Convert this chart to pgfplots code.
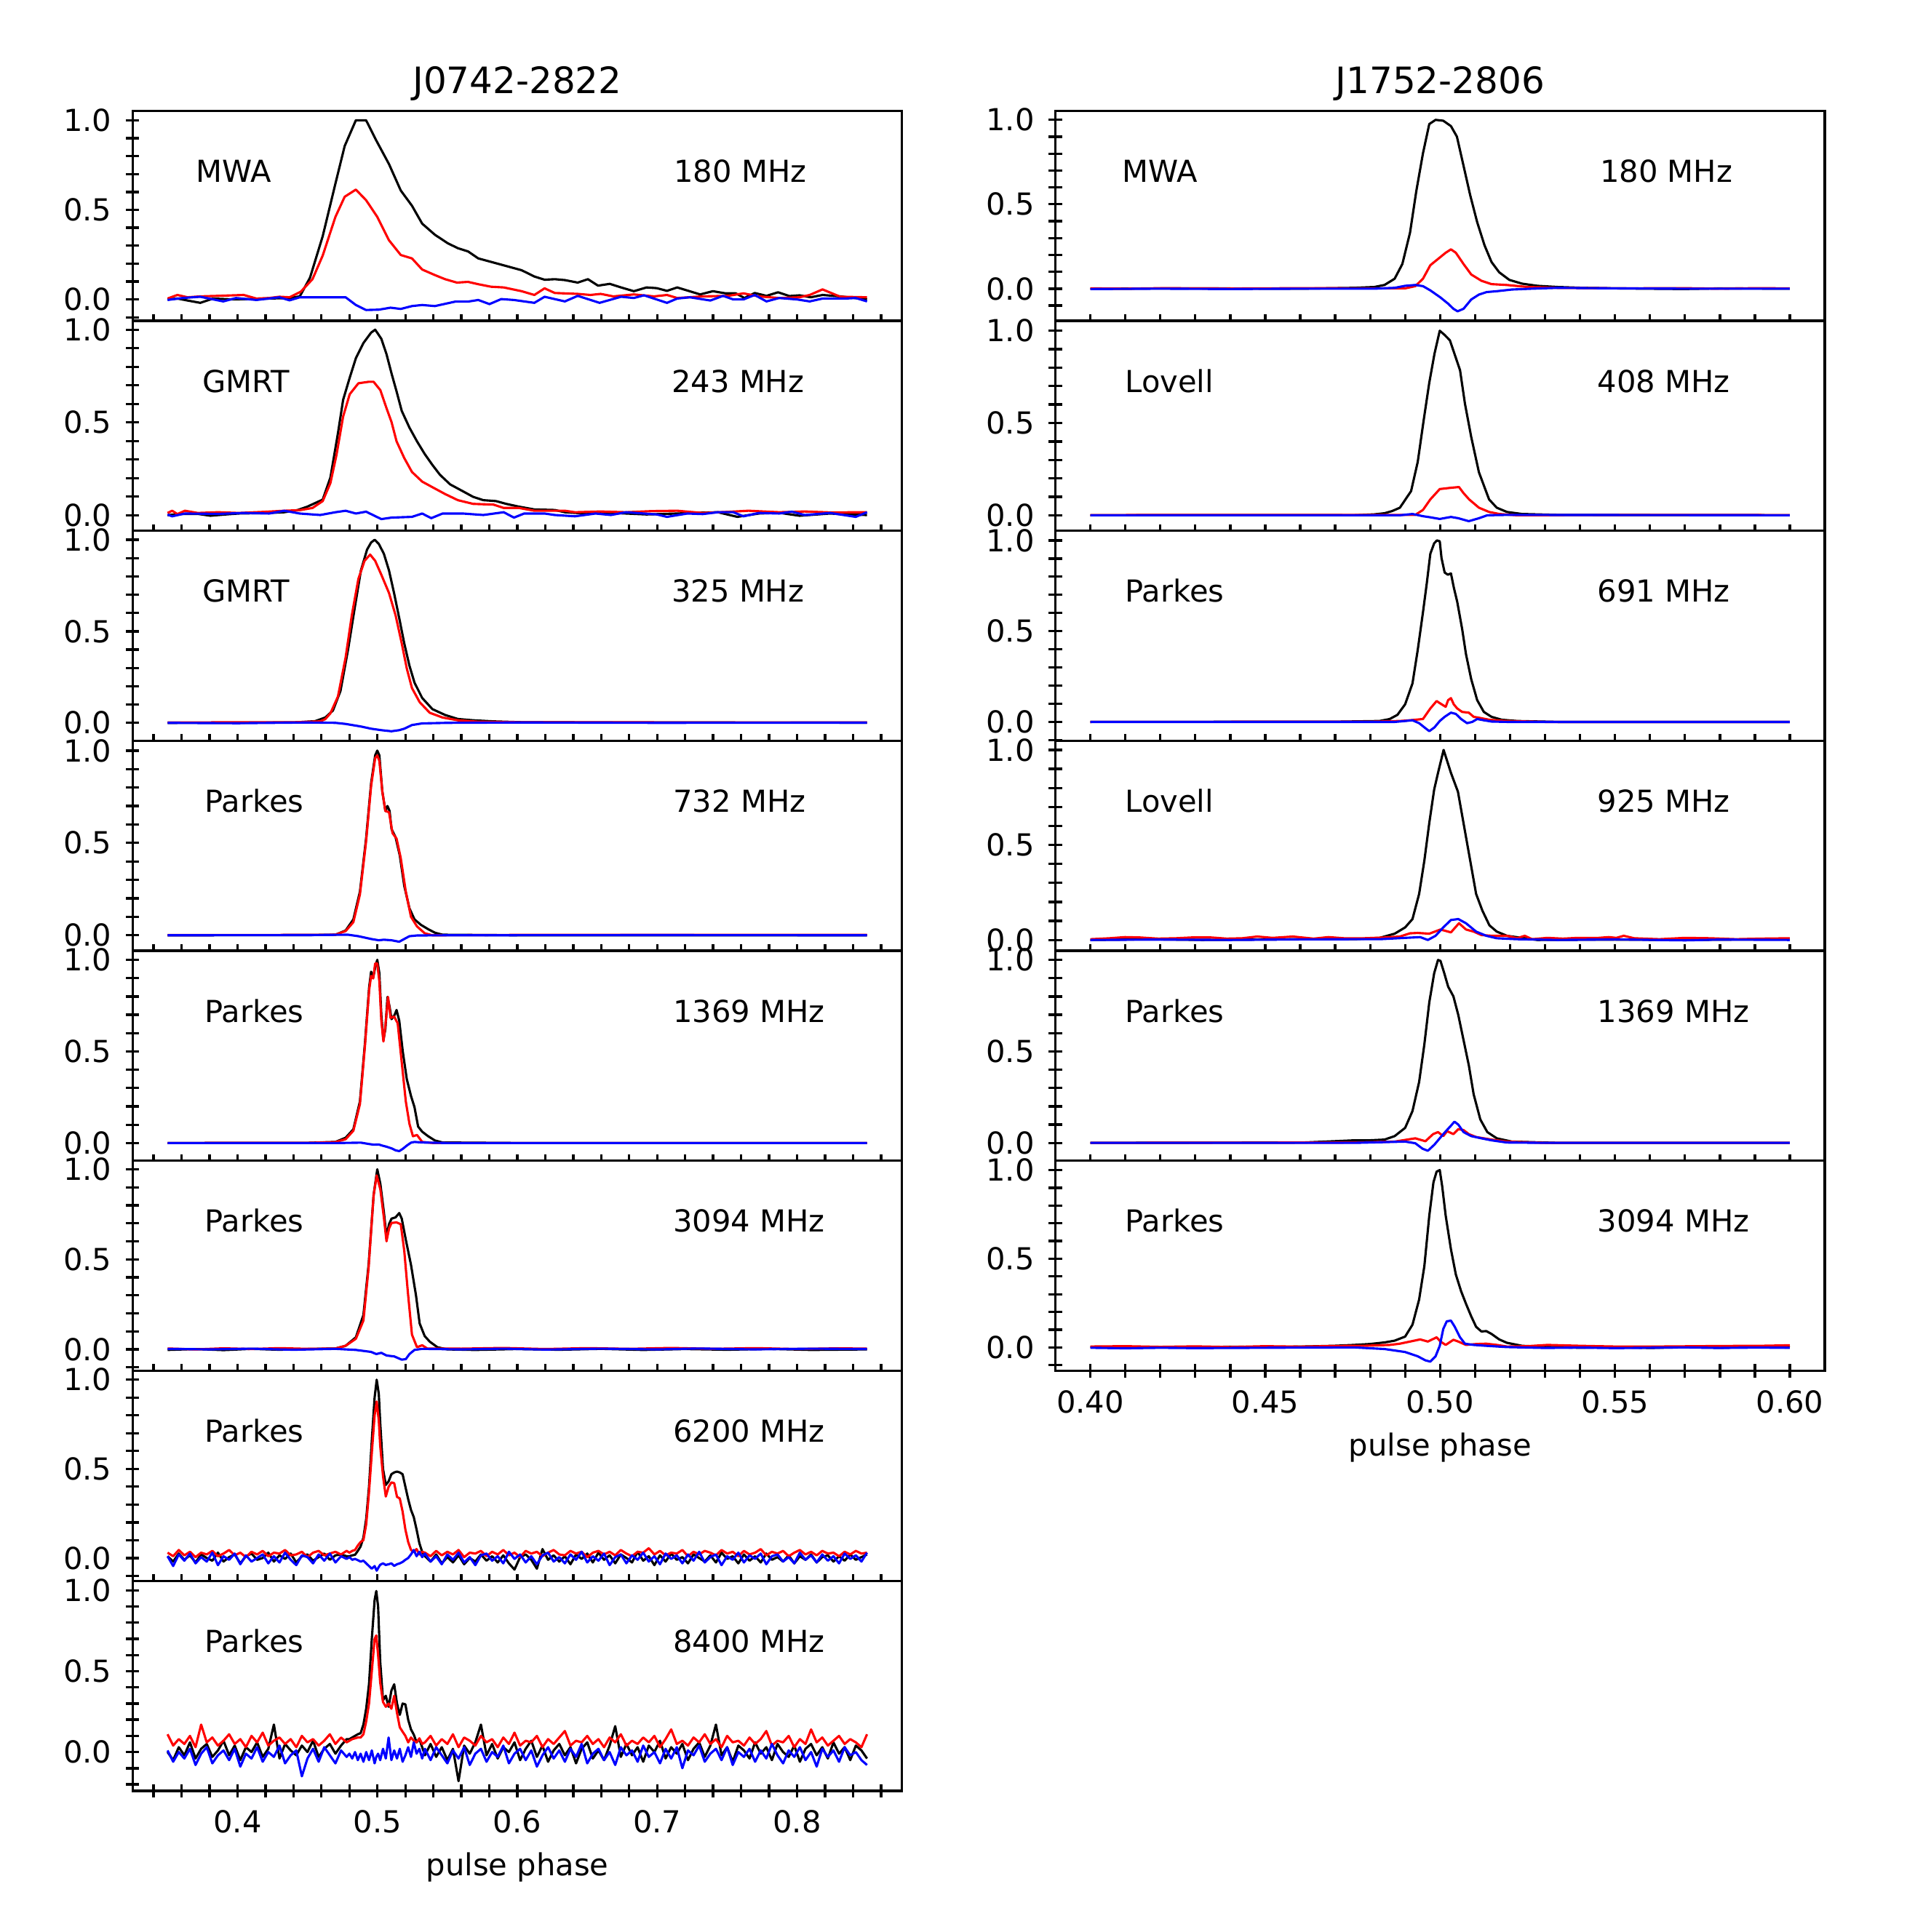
\documentclass[border=0pt]{standalone}
\usepackage{fontspec}
\setmainfont{DejaVu Sans}
\usepackage{pgfplots}
\usepackage{pgfplotstable}
\pgfplotsset{compat=1.18}

% J0742-2822, Parkes 6200 MHz: x, I, L, V
\pgfplotstableread{
x bk rd bl
0.350 0.010 0.030 0.010
0.354 -0.020 0.010 -0.045
0.358 0.025 0.045 0.020
0.362 -0.010 0.015 -0.015
0.366 0.015 0.035 0.025
0.370 -0.025 0.005 -0.030
0.374 0.020 0.030 0.005
0.378 0.000 0.020 -0.020
0.382 -0.015 0.040 0.030
0.386 0.030 0.010 -0.040
0.390 -0.020 0.025 0.010
0.394 0.005 0.045 -0.010
0.398 0.020 0.015 0.025
0.402 -0.030 0.030 -0.035
0.406 0.010 0.005 0.015
0.410 0.025 0.035 -0.020
0.414 -0.010 0.020 0.000
0.418 0.000 0.040 0.020
0.422 0.030 0.010 -0.030
0.426 -0.020 0.030 0.010
0.430 0.015 0.025 -0.025
0.434 -0.005 0.045 0.030
0.438 0.025 0.015 -0.010
0.442 -0.025 0.020 -0.040
0.446 0.010 0.035 0.015
0.450 0.020 0.005 0.005
0.454 -0.015 0.030 -0.030
0.458 0.005 0.040 0.020
0.462 0.025 0.015 -0.015
0.466 -0.010 0.025 0.025
0.470 0.015 0.035 -0.025
0.474 0.020 0.020 0.010
0.478 0.010 0.040 -0.005
0.480 0.010 0.030 0.005
0.482 0.015 0.040 -0.010
0.484 0.018 0.045 -0.005
0.486 0.040 0.070 -0.012
0.488 0.065 0.090 -0.020
0.490 0.115 0.100 -0.015
0.492 0.220 0.190 -0.030
0.494 0.400 0.370 -0.045
0.496 0.660 0.590 -0.060
0.498 0.900 0.800 -0.045
0.4995 1.000 0.878 -0.071
0.501 0.920 0.770 -0.050
0.502 0.760 0.630 -0.038
0.504 0.500 0.460 -0.030
0.506 0.410 0.345 -0.039
0.508 0.430 0.399 -0.035
0.510 0.470 0.424 -0.030
0.512 0.480 0.420 -0.044
0.514 0.485 0.343 -0.035
0.516 0.480 0.334 -0.030
0.518 0.470 0.261 -0.022
0.520 0.400 0.160 -0.010
0.522 0.330 0.090 0.000
0.524 0.270 0.045 0.020
0.526 0.229 0.034 0.045
0.528 0.160 0.050 0.010
0.530 0.083 0.020 0.035
0.532 0.034 0.035 0.005
0.534 0.010 0.030 0.025
0.538 -0.020 0.010 -0.020
0.542 0.020 0.040 0.010
0.546 -0.030 0.015 -0.035
0.550 0.005 0.035 0.020
0.554 -0.025 0.020 -0.010
0.558 0.015 0.045 0.030
0.562 -0.035 0.005 -0.025
0.566 0.000 0.030 0.005
0.570 -0.020 0.025 -0.040
0.574 0.020 0.040 0.015
0.578 -0.015 0.010 0.025
0.582 0.010 0.035 -0.015
0.586 -0.025 0.020 0.010
0.590 0.015 0.045 -0.030
0.594 -0.030 0.015 0.035
0.598 -0.065 0.030 -0.005
0.602 0.005 0.005 0.020
0.606 0.020 0.040 -0.025
0.610 -0.010 0.025 0.010
0.614 -0.060 0.035 -0.035
0.618 0.050 0.010 0.015
0.622 -0.010 0.030 0.030
0.626 0.015 0.045 -0.020
0.630 -0.020 0.020 0.005
0.634 0.010 0.015 -0.030
0.638 -0.035 0.040 0.020
0.642 0.020 0.025 -0.010
0.646 -0.005 0.035 0.035
0.650 0.025 0.005 -0.025
0.654 -0.025 0.030 0.010
0.658 0.030 0.040 -0.015
0.662 -0.010 0.020 0.025
0.666 0.015 0.035 -0.040
0.670 -0.030 0.015 0.005
0.674 0.020 0.045 0.020
0.678 0.000 0.025 -0.030
0.682 -0.025 0.010 0.015
0.686 0.035 0.035 -0.010
0.690 -0.015 0.030 0.030
0.694 0.010 0.055 -0.020
0.698 -0.040 0.020 0.010
0.702 0.015 0.040 -0.035
0.706 -0.020 0.015 0.025
0.710 0.025 0.030 -0.005
0.714 -0.010 0.025 0.015
0.718 0.005 0.045 -0.030
0.722 -0.030 0.010 0.020
0.726 0.020 0.035 -0.015
0.730 0.000 0.020 0.035
0.734 -0.020 0.040 -0.025
0.738 0.015 0.030 0.005
0.742 -0.025 0.015 0.020
0.746 0.030 0.045 -0.040
0.750 -0.005 0.025 0.010
0.754 0.010 0.035 -0.010
0.758 -0.030 0.010 0.030
0.762 0.020 0.040 -0.025
0.766 -0.015 0.020 0.015
0.770 0.010 0.030 -0.005
0.774 -0.025 0.050 0.025
0.778 0.025 0.015 -0.035
0.782 -0.010 0.035 0.010
0.786 0.005 0.025 0.020
0.790 -0.020 0.040 -0.020
0.794 0.015 0.010 0.005
0.798 -0.030 0.030 -0.030
0.802 0.010 0.045 0.030
0.806 -0.010 0.020 -0.010
0.810 0.020 0.035 0.015
0.814 -0.025 0.015 -0.025
0.818 0.005 0.040 0.020
0.822 0.015 0.025 -0.015
0.826 -0.020 0.030 0.010
0.830 0.010 0.010 -0.030
0.834 -0.015 0.035 0.025
0.838 0.020 0.020 -0.005
0.842 -0.010 0.040 0.015
0.846 0.005 0.025 -0.020
0.850 0.020 0.030 0.030
}\tabSixTwo

% J0742-2822, Parkes 8400 MHz: x, I, L, V
\pgfplotstableread{
x bk rd bl
0.350 0.000 0.110 0.010
0.354 -0.050 0.040 -0.060
0.358 0.030 0.080 0.000
0.362 -0.020 0.050 -0.040
0.366 0.060 0.100 0.020
0.370 -0.040 0.030 -0.080
0.374 0.020 0.170 -0.010
0.378 0.050 0.060 0.030
0.382 -0.030 0.090 -0.070
0.386 0.010 0.040 -0.020
0.390 0.070 0.070 0.010
0.394 -0.020 0.110 -0.050
0.398 0.040 0.050 0.020
0.402 -0.050 0.080 -0.090
0.406 0.030 0.030 -0.010
0.410 0.000 0.100 -0.040
0.414 0.060 0.060 0.030
0.418 -0.030 0.120 -0.060
0.422 0.020 0.040 0.000
0.426 0.170 0.070 -0.030
0.430 -0.040 0.090 0.040
0.434 0.050 0.050 -0.070
0.438 0.010 0.080 -0.020
0.442 -0.020 0.030 0.010
0.446 0.040 0.100 -0.150
0.450 0.000 0.060 -0.040
0.454 0.070 0.080 0.020
0.458 -0.030 0.040 -0.060
0.462 0.020 0.070 0.030
0.466 0.050 0.110 -0.020
0.470 -0.010 0.050 -0.070
0.474 0.040 0.090 0.010
0.478 0.080 0.060 -0.030
0.480 0.080 0.070 -0.010
0.482 0.090 0.080 -0.040
0.484 0.100 0.085 0.000
0.486 0.110 0.090 -0.050
0.488 0.117 0.090 -0.010
0.490 0.170 0.110 -0.060
0.492 0.270 0.190 0.000
0.494 0.420 0.300 -0.050
0.496 0.700 0.500 0.010
0.498 0.940 0.700 -0.070
0.4992 0.996 0.721 -0.030
0.5005 0.900 0.600 -0.010
0.502 0.560 0.430 -0.050
0.504 0.320 0.310 0.020
0.506 0.348 0.280 -0.040
0.508 0.280 0.300 0.090
0.510 0.380 0.268 -0.050
0.512 0.419 0.348 0.010
0.514 0.300 0.242 -0.040
0.516 0.230 0.153 0.020
0.518 0.300 0.126 -0.060
0.520 0.295 0.100 -0.020
0.522 0.200 0.060 0.030
0.524 0.140 0.090 -0.030
0.526 0.108 0.070 0.060
0.528 0.060 0.060 -0.010
0.530 0.080 0.085 0.020
0.532 0.030 0.050 -0.040
0.534 -0.020 0.060 0.020
0.538 0.050 0.100 -0.050
0.542 -0.030 0.040 0.030
0.546 0.030 0.080 -0.020
0.550 -0.050 0.050 -0.070
0.554 0.020 0.110 0.010
0.558 -0.180 0.030 -0.040
0.562 0.040 0.090 0.030
0.566 -0.010 0.070 -0.080
0.570 0.060 0.040 -0.010
0.574 0.170 0.100 0.020
0.578 -0.020 0.060 -0.060
0.582 0.050 0.080 0.000
0.586 -0.040 0.030 -0.030
0.590 0.030 0.090 0.040
0.594 0.000 0.050 -0.070
0.598 0.060 0.120 -0.010
0.602 -0.050 0.040 0.020
0.606 0.020 0.070 -0.050
0.610 0.070 0.060 0.010
0.614 -0.030 0.100 -0.090
0.618 0.040 0.030 -0.020
0.622 -0.060 0.080 0.030
0.626 0.010 0.050 -0.040
0.630 0.050 0.090 0.010
0.634 -0.020 0.130 -0.060
0.638 0.030 0.040 0.020
0.642 -0.070 0.070 -0.030
0.646 0.020 0.060 0.050
0.650 0.060 0.100 -0.070
0.654 -0.040 0.050 -0.010
0.658 0.010 0.080 0.020
0.662 -0.050 0.030 -0.050
0.666 0.040 0.090 0.000
0.670 0.160 0.060 -0.080
0.674 -0.030 0.110 0.030
0.678 0.050 0.040 -0.020
0.682 -0.020 0.070 0.010
0.686 0.030 0.050 -0.060
0.690 -0.060 0.090 0.040
0.694 0.040 0.060 -0.030
0.698 0.000 0.100 0.000
0.702 0.070 0.030 -0.070
0.706 -0.040 0.080 0.020
0.710 0.030 0.140 -0.040
0.714 -0.010 0.050 0.030
0.718 0.050 0.070 -0.100
0.722 -0.050 0.040 0.010
0.726 0.020 0.090 -0.020
0.730 0.060 0.060 0.040
0.734 -0.030 0.110 -0.060
0.738 0.040 0.050 -0.010
0.742 0.170 0.080 0.020
0.746 -0.020 0.030 -0.050
0.750 0.030 0.100 0.030
0.754 -0.060 0.060 -0.080
0.758 0.040 0.070 0.000
0.762 0.010 0.040 -0.030
0.766 -0.040 0.090 0.020
0.770 0.060 0.050 -0.060
0.774 -0.010 0.080 0.010
0.778 0.030 0.130 -0.040
0.782 -0.050 0.040 0.050
0.786 0.050 0.070 -0.020
0.790 0.000 0.060 -0.070
0.794 -0.030 0.100 0.010
0.798 0.040 0.030 -0.030
0.802 -0.060 0.080 0.030
0.806 0.020 0.050 -0.050
0.810 0.050 0.140 0.000
0.814 -0.020 0.060 -0.090
0.818 0.030 0.090 0.020
0.822 -0.040 0.040 -0.030
0.826 0.060 0.070 0.010
0.830 -0.010 0.100 -0.060
0.834 0.030 0.050 0.030
0.838 -0.050 0.080 -0.020
0.842 0.040 0.060 0.000
0.846 0.010 0.030 -0.050
0.850 -0.040 0.110 -0.080
}\tabEightFour

\pgfplotsset{
  panel/.style={
    scale only axis, width=253.8pt, height=69.29pt, anchor=north west,
    axis background/.style={fill=white},
    axis line style={line width=0.8pt},
    tick align=center, tick pos=left,
    major tick length=4.4pt, minor tick length=4.4pt,
    tick style={line width=0.8pt, black},
    ytick={0,0.5,1},
    minor ytick={-0.2,-0.1,0.1,0.2,0.3,0.4,0.6,0.7,0.8,0.9},
    /pgf/number format/assume math mode=true,
    yticklabel style={/pgf/number format/fixed, /pgf/number format/fixed zerofill, /pgf/number format/precision=1, xshift=-1.2pt},
    xticklabel style={anchor=base, yshift=-11.6pt},
    every axis plot/.append style={line width=0.75pt, line join=round, mark=none},
    title style={at={(0.5,1)}, anchor=base, yshift=-0.3pt, font=\fontsize{12}{14}\selectfont},
    xlabel style={at={(0.5,0)}, anchor=base, yshift=-28pt},
  },
  lcol/.style={panel, xmin=0.325, xmax=0.875,
    xtick={0.4,0.5,0.6,0.7,0.8},
    minor xtick={0.34,0.36,0.38,0.42,0.44,0.46,0.48,0.52,0.54,0.56,0.58,0.62,0.64,0.66,0.68,0.72,0.74,0.76,0.78,0.82,0.84,0.86},
    xticklabel style={/pgf/number format/fixed, /pgf/number format/fixed zerofill, /pgf/number format/precision=1}},
  rcol/.style={panel, xmin=0.39, xmax=0.61,
    xtick={0.40,0.45,0.50,0.55,0.60},
    minor xtick={0.41,0.42,0.43,0.44,0.46,0.47,0.48,0.49,0.51,0.52,0.53,0.54,0.56,0.57,0.58,0.59},
    xticklabel style={/pgf/number format/fixed, /pgf/number format/fixed zerofill, /pgf/number format/precision=2}},
}
\tikzset{lab/.style={anchor=base west, inner sep=0pt}}

\begin{document}
\begin{tikzpicture}
\path[use as bounding box] (0pt,0pt) rectangle (631.68pt,-637.44pt);

% ===================== LEFT COLUMN: J0742-2822 =====================
\begin{axis}[lcol, at={(43.74pt,-36.54pt)}, ymin=-0.119, ymax=1.053, xticklabels={}, title={J0742-2822}]
\addplot[black] coordinates {(0.350,0.0)(0.357,0.005)(0.3643,-0.006)(0.3734,-0.019)(0.3825,0.005)(0.3971,0.0)(0.4226,0.005)(0.4372,0.008)(0.4445,0.017)(0.4518,0.121)(0.4609,0.353)(0.470,0.647)(0.4766,0.856)(0.4846,1.0)(0.4919,1.0)(0.4992,0.887)(0.5083,0.755)(0.5167,0.608)(0.5247,0.523)(0.532,0.423)(0.5411,0.361)(0.5502,0.314)(0.5575,0.286)(0.5648,0.268)(0.5721,0.229)(0.5867,0.198)(0.6031,0.163)(0.6122,0.128)(0.6195,0.110)(0.6268,0.113)(0.634,0.108)(0.6432,0.094)(0.6505,0.113)(0.6577,0.077)(0.6661,0.087)(0.6742,0.067)(0.6833,0.046)(0.6924,0.067)(0.6997,0.063)(0.707,0.048)(0.7143,0.067)(0.7307,0.028)(0.7398,0.046)(0.7489,0.034)(0.7562,0.034)(0.7624,0.008)(0.7697,0.036)(0.7781,0.020)(0.7864,0.040)(0.7945,0.019)(0.8017,0.023)(0.8098,0.012)(0.8182,0.025)(0.8309,0.017)(0.840,0.009)(0.850,0.0)};
\addplot[red] coordinates {(0.350,0.005)(0.357,0.025)(0.3643,0.012)(0.3734,0.017)(0.3861,0.020)(0.4044,0.025)(0.4135,0.005)(0.4226,0.008)(0.4299,0.015)(0.4372,0.012)(0.4452,0.043)(0.4536,0.113)(0.4609,0.245)(0.470,0.461)(0.4766,0.573)(0.4846,0.613)(0.4919,0.554)(0.4999,0.461)(0.5083,0.330)(0.5167,0.248)(0.5247,0.229)(0.532,0.167)(0.5411,0.136)(0.5484,0.113)(0.5568,0.094)(0.5648,0.098)(0.5721,0.085)(0.5812,0.071)(0.5903,0.067)(0.6031,0.046)(0.6122,0.025)(0.6195,0.062)(0.6268,0.036)(0.6432,0.031)(0.6523,0.025)(0.6596,0.031)(0.6687,0.017)(0.6833,0.028)(0.6978,0.017)(0.707,0.025)(0.7143,0.008)(0.7325,0.017)(0.7507,0.020)(0.7617,0.034)(0.7726,0.017)(0.7872,0.008)(0.8017,0.012)(0.809,0.025)(0.8182,0.056)(0.8309,0.015)(0.850,0.012)};
\addplot[blue] coordinates {(0.350,-0.003)(0.3606,0.008)(0.3734,0.015)(0.3898,-0.011)(0.3989,0.008)(0.4135,-0.003)(0.4299,0.012)(0.4372,-0.005)(0.4445,0.012)(0.4591,0.012)(0.4773,0.012)(0.4846,-0.031)(0.4919,-0.059)(0.501,-0.057)(0.5094,-0.046)(0.5167,-0.053)(0.5247,-0.037)(0.532,-0.031)(0.5411,-0.037)(0.5557,-0.012)(0.5648,-0.012)(0.5721,-0.003)(0.5801,-0.026)(0.5885,0.002)(0.5976,-0.003)(0.6122,-0.019)(0.6195,0.015)(0.634,-0.011)(0.6432,0.020)(0.6588,-0.019)(0.6742,0.015)(0.6833,0.008)(0.6906,0.023)(0.707,-0.019)(0.7143,0.005)(0.7234,0.012)(0.738,-0.006)(0.7471,0.020)(0.7544,0.0)(0.7617,0.0)(0.7697,0.025)(0.7781,-0.011)(0.7872,0.008)(0.7999,0.0)(0.809,-0.011)(0.8182,0.005)(0.8346,0.005)(0.8419,0.008)(0.850,-0.011)};
\node[lab] at (rel axis cs:0.082,0.66) {MWA};
\node[lab] at (rel axis cs:0.703,0.66) {180 MHz};
\end{axis}

\begin{axis}[lcol, at={(43.74pt,-105.83pt)}, ymin=-0.084, ymax=1.048, xticklabels={}]
\addplot[black] coordinates {(0.350,0.0)(0.3588,0.007)(0.3716,0.007)(0.3807,-0.003)(0.3916,0.004)(0.4007,0.009)(0.4226,0.012)(0.4335,0.016)(0.4427,0.027)(0.4499,0.046)(0.4609,0.084)(0.4664,0.203)(0.4718,0.442)(0.4755,0.622)(0.4802,0.741)(0.4846,0.846)(0.490,0.928)(0.4955,0.984)(0.4984,1.0)(0.5028,0.951)(0.5065,0.868)(0.5101,0.764)(0.5137,0.667)(0.5174,0.562)(0.5229,0.472)(0.5283,0.398)(0.5338,0.330)(0.5393,0.271)(0.5447,0.218)(0.552,0.166)(0.5611,0.129)(0.5684,0.099)(0.5757,0.081)(0.5848,0.076)(0.5921,0.061)(0.6012,0.046)(0.6122,0.031)(0.6268,0.028)(0.634,0.016)(0.6486,0.009)(0.6631,0.014)(0.6778,0.009)(0.6924,0.004)(0.7143,0.009)(0.7288,0.013)(0.7434,0.016)(0.7573,-0.009)(0.7726,0.009)(0.7872,0.013)(0.8017,-0.003)(0.8236,0.009)(0.8382,0.003)(0.850,0.001)};
\addplot[red] coordinates {(0.350,0.012)(0.3533,0.024)(0.357,0.006)(0.3624,0.024)(0.3716,0.012)(0.3861,0.016)(0.4007,0.012)(0.419,0.018)(0.4335,0.024)(0.4445,0.027)(0.4536,0.039)(0.4609,0.076)(0.4664,0.173)(0.4707,0.323)(0.4755,0.532)(0.4802,0.652)(0.4864,0.711)(0.4937,0.719)(0.4973,0.719)(0.5021,0.674)(0.5065,0.577)(0.5101,0.502)(0.5137,0.398)(0.5192,0.308)(0.5247,0.233)(0.532,0.181)(0.5393,0.151)(0.5484,0.114)(0.5575,0.081)(0.5684,0.061)(0.583,0.057)(0.5903,0.039)(0.6012,0.039)(0.6122,0.024)(0.634,0.024)(0.6413,0.016)(0.6595,0.020)(0.6778,0.016)(0.6960,0.022)(0.7143,0.024)(0.7325,0.012)(0.7507,0.018)(0.7653,0.024)(0.7872,0.016)(0.8054,0.020)(0.8236,0.015)(0.850,0.016)};
\addplot[blue] coordinates {(0.350,0.003)(0.3533,-0.006)(0.3624,0.009)(0.3861,0.007)(0.4044,0.012)(0.4226,0.009)(0.4335,0.024)(0.4445,0.009)(0.4591,0.001)(0.470,0.016)(0.4773,0.024)(0.4846,0.009)(0.4919,0.019)(0.5028,-0.021)(0.5101,-0.013)(0.5247,-0.009)(0.532,0.009)(0.5385,-0.016)(0.5466,0.009)(0.5611,0.009)(0.5757,0.001)(0.5903,0.016)(0.5976,-0.013)(0.6049,0.009)(0.6195,0.009)(0.6268,0.001)(0.6413,-0.006)(0.6559,0.009)(0.6669,0.001)(0.6778,0.016)(0.6997,0.004)(0.707,-0.009)(0.7215,0.009)(0.7325,0.006)(0.7434,0.016)(0.7544,0.016)(0.7617,-0.006)(0.7726,0.012)(0.7872,0.009)(0.7963,0.019)(0.8054,0.001)(0.8236,0.012)(0.8419,-0.009)(0.850,0.016)};
\node[lab] at (rel axis cs:0.090,0.66) {GMRT};
\node[lab] at (rel axis cs:0.700,0.66) {243 MHz};
\end{axis}

\begin{axis}[lcol, at={(43.74pt,-175.12pt)}, ymin=-0.098, ymax=1.049, xticklabels={}]
\addplot[black] coordinates {(0.350,0.0)(0.40,0.001)(0.44,0.002)(0.4554,0.009)(0.4627,0.029)(0.4682,0.067)(0.4736,0.174)(0.4791,0.404)(0.4839,0.633)(0.4882,0.832)(0.4926,0.946)(0.4955,0.985)(0.4981,1.0)(0.501,0.977)(0.5046,0.924)(0.5083,0.832)(0.5119,0.709)(0.5156,0.572)(0.5192,0.434)(0.5229,0.312)(0.5265,0.220)(0.532,0.136)(0.5393,0.075)(0.5484,0.043)(0.5575,0.021)(0.5684,0.014)(0.583,0.008)(0.605,0.003)(0.70,0.002)(0.850,0.001)};
\addplot[red] coordinates {(0.350,0.002)(0.40,0.003)(0.44,0.003)(0.4590,0.008)(0.4627,0.020)(0.4664,0.052)(0.4718,0.144)(0.4773,0.358)(0.4817,0.587)(0.4864,0.786)(0.4908,0.885)(0.4948,0.919)(0.4984,0.885)(0.5028,0.809)(0.5083,0.709)(0.513,0.587)(0.5174,0.434)(0.521,0.297)(0.5247,0.190)(0.5302,0.113)(0.5374,0.055)(0.5466,0.029)(0.5575,0.014)(0.5721,0.006)(0.605,0.003)(0.850,0.002)};
\addplot[blue] coordinates {(0.350,0.0)(0.40,-0.002)(0.45,0.002)(0.470,0.0)(0.4773,-0.006)(0.4882,-0.020)(0.4955,-0.032)(0.5028,-0.040)(0.510,-0.046)(0.5156,-0.040)(0.5192,-0.032)(0.5247,-0.012)(0.532,-0.003)(0.55,0.0)(0.60,0.002)(0.70,0.0)(0.850,0.001)};
\node[lab] at (rel axis cs:0.090,0.66) {GMRT};
\node[lab] at (rel axis cs:0.700,0.66) {325 MHz};
\end{axis}

\begin{axis}[lcol, at={(43.74pt,-244.41pt)}, ymin=-0.084, ymax=1.053, xticklabels={}]
\addplot[black] coordinates {(0.350,0.0)(0.45,0.001)(0.470,0.003)(0.4773,0.026)(0.4828,0.086)(0.4875,0.236)(0.4919,0.523)(0.4955,0.824)(0.4984,0.974)(0.4999,1.0)(0.5014,0.974)(0.5035,0.779)(0.5057,0.673)(0.5072,0.700)(0.5087,0.673)(0.5101,0.575)(0.513,0.530)(0.516,0.432)(0.5192,0.267)(0.5229,0.146)(0.5265,0.086)(0.5312,0.056)(0.5363,0.033)(0.5411,0.014)(0.5466,0.003)(0.60,0.0)(0.850,0.0)};
\addplot[red] coordinates {(0.350,0.001)(0.45,0.002)(0.470,0.003)(0.4773,0.023)(0.4828,0.071)(0.4875,0.221)(0.4919,0.508)(0.4955,0.809)(0.4984,0.959)(0.4999,0.974)(0.5014,0.944)(0.5035,0.779)(0.5057,0.673)(0.5083,0.666)(0.5108,0.553)(0.5137,0.523)(0.5167,0.417)(0.5203,0.236)(0.524,0.100)(0.5283,0.048)(0.5338,0.011)(0.5393,0.0)(0.60,0.002)(0.850,0.002)};
\addplot[blue] coordinates {(0.350,0.0)(0.45,0.001)(0.4791,0.003)(0.4864,-0.005)(0.4955,-0.020)(0.501,-0.027)(0.5046,-0.024)(0.5101,-0.027)(0.5156,-0.035)(0.5192,-0.020)(0.5229,-0.005)(0.5283,-0.001)(0.55,0.0)(0.70,0.001)(0.850,0.0)};
\node[lab] at (rel axis cs:0.093,0.66) {Parkes};
\node[lab] at (rel axis cs:0.702,0.66) {732 MHz};
\end{axis}

\begin{axis}[lcol, at={(43.74pt,-313.70pt)}, ymin=-0.097, ymax=1.049, xticklabels={}]
\addplot[black] coordinates {(0.350,0.0)(0.45,0.001)(0.470,0.006)(0.4773,0.029)(0.4828,0.075)(0.4875,0.227)(0.4911,0.546)(0.4941,0.851)(0.4955,0.935)(0.497,0.904)(0.4984,0.957)(0.4999,1.0)(0.5014,0.927)(0.5028,0.699)(0.5043,0.562)(0.5057,0.623)(0.5072,0.797)(0.5087,0.744)(0.5101,0.676)(0.5123,0.699)(0.5137,0.726)(0.5156,0.668)(0.5181,0.501)(0.521,0.349)(0.524,0.257)(0.5265,0.196)(0.5291,0.090)(0.532,0.062)(0.5363,0.037)(0.5411,0.014)(0.5466,0.003)(0.60,0.0)(0.850,0.0)};
\addplot[red] coordinates {(0.350,0.0)(0.45,0.001)(0.470,0.005)(0.4773,0.021)(0.4828,0.067)(0.4875,0.212)(0.4911,0.531)(0.4941,0.836)(0.4955,0.912)(0.497,0.898)(0.4984,0.980)(0.4999,0.980)(0.5014,0.881)(0.5028,0.668)(0.5043,0.554)(0.5057,0.639)(0.5076,0.797)(0.5094,0.683)(0.512,0.690)(0.5145,0.653)(0.5174,0.440)(0.5203,0.227)(0.5229,0.105)(0.5254,0.037)(0.5283,0.044)(0.532,0.006)(0.54,0.0)(0.850,0.0)};
\addplot[blue] coordinates {(0.350,0.0)(0.47,0.0)(0.4882,0.002)(0.4937,-0.005)(0.4973,-0.009)(0.501,-0.008)(0.5035,-0.014)(0.5065,-0.020)(0.5101,-0.029)(0.513,-0.040)(0.5156,-0.044)(0.5181,-0.032)(0.521,-0.014)(0.524,0.002)(0.5265,0.006)(0.532,0.003)(0.55,0.0)(0.850,0.0)};
\node[lab] at (rel axis cs:0.093,0.66) {Parkes};
\node[lab] at (rel axis cs:0.702,0.66) {1369 MHz};
\end{axis}

\begin{axis}[lcol, at={(43.74pt,-382.99pt)}, ymin=-0.119, ymax=1.047, xticklabels={}]
\addplot[black] coordinates {(0.350,-0.003)(0.37,0.002)(0.39,-0.004)(0.41,0.003)(0.43,-0.002)(0.45,0.002)(0.470,0.005)(0.4773,0.020)(0.4846,0.067)(0.490,0.191)(0.4937,0.470)(0.4973,0.857)(0.4999,1.0)(0.5021,0.919)(0.5046,0.764)(0.5065,0.625)(0.5083,0.695)(0.5101,0.726)(0.513,0.733)(0.5156,0.757)(0.5174,0.726)(0.5203,0.609)(0.524,0.470)(0.5276,0.299)(0.5302,0.144)(0.5338,0.074)(0.5374,0.043)(0.5429,0.012)(0.55,0.0)(0.57,-0.003)(0.60,0.002)(0.63,-0.002)(0.66,0.003)(0.69,-0.003)(0.72,0.002)(0.75,-0.002)(0.78,0.003)(0.81,-0.003)(0.850,0.0)};
\addplot[red] coordinates {(0.350,0.005)(0.37,0.0)(0.39,0.006)(0.41,0.002)(0.43,0.007)(0.45,0.003)(0.470,0.005)(0.4773,0.020)(0.4846,0.059)(0.490,0.160)(0.4937,0.453)(0.4973,0.857)(0.4995,0.966)(0.5021,0.888)(0.5046,0.733)(0.5065,0.600)(0.5083,0.671)(0.5101,0.702)(0.5137,0.705)(0.5167,0.695)(0.5192,0.547)(0.5218,0.315)(0.5247,0.082)(0.5283,0.012)(0.532,0.023)(0.5356,0.005)(0.56,0.004)(0.59,0.008)(0.62,0.002)(0.65,0.007)(0.68,0.003)(0.71,0.008)(0.74,0.003)(0.77,0.007)(0.80,0.002)(0.83,0.006)(0.850,0.004)};
\addplot[blue] coordinates {(0.350,0.003)(0.38,0.0)(0.41,0.004)(0.44,-0.002)(0.470,0.003)(0.4846,-0.003)(0.4955,-0.014)(0.4992,-0.026)(0.5028,-0.019)(0.5065,-0.034)(0.512,-0.039)(0.5174,-0.057)(0.5203,-0.054)(0.5229,-0.026)(0.5265,-0.003)(0.532,0.003)(0.56,0.0)(0.59,0.004)(0.62,-0.001)(0.66,0.004)(0.70,0.0)(0.73,0.005)(0.77,0.0)(0.81,0.004)(0.850,0.002)};
\node[lab] at (rel axis cs:0.093,0.66) {Parkes};
\node[lab] at (rel axis cs:0.702,0.66) {3094 MHz};
\end{axis}

\begin{axis}[lcol, at={(43.74pt,-452.28pt)}, ymin=-0.128, ymax=1.050, xticklabels={}]
\addplot[black] table[x=x, y=bk] {\tabSixTwo};
\addplot[red] table[x=x, y=rd] {\tabSixTwo};
\addplot[blue] table[x=x, y=bl] {\tabSixTwo};
\node[lab] at (rel axis cs:0.093,0.66) {Parkes};
\node[lab] at (rel axis cs:0.702,0.66) {6200 MHz};
\end{axis}

\begin{axis}[lcol, at={(43.74pt,-521.57pt)}, ymin=-0.240, ymax=1.059, xlabel={pulse phase}]
\addplot[black] table[x=x, y=bk] {\tabEightFour};
\addplot[red] table[x=x, y=rd] {\tabEightFour};
\addplot[blue] table[x=x, y=bl] {\tabEightFour};
\node[lab] at (rel axis cs:0.093,0.66) {Parkes};
\node[lab] at (rel axis cs:0.702,0.66) {8400 MHz};
\end{axis}

% ===================== RIGHT COLUMN: J1752-2806 =====================
\begin{axis}[rcol, at={(348.13pt,-36.54pt)}, ymin=-0.190, ymax=1.054, xticklabels={}, title={J1752-2806}]
\addplot[black] coordinates {(0.400,0.0)(0.43,0.002)(0.46,0.0)(0.4754,0.005)(0.4812,0.010)(0.4841,0.022)(0.487,0.059)(0.4892,0.146)(0.4914,0.332)(0.4932,0.579)(0.4951,0.802)(0.4969,0.975)(0.4987,1.0)(0.5009,0.995)(0.5031,0.963)(0.5048,0.901)(0.5067,0.728)(0.5086,0.554)(0.5106,0.394)(0.5127,0.257)(0.5147,0.158)(0.5169,0.097)(0.5198,0.052)(0.5234,0.030)(0.5278,0.017)(0.5336,0.010)(0.5409,0.005)(0.55,0.002)(0.5696,-0.002)(0.58,0.002)(0.600,0.0)};
\addplot[red] coordinates {(0.400,0.002)(0.41,0.0)(0.42,0.003)(0.44,0.001)(0.46,0.003)(0.48,0.002)(0.4900,0.002)(0.4929,0.015)(0.4951,0.059)(0.4972,0.139)(0.4994,0.176)(0.5016,0.213)(0.5031,0.233)(0.5045,0.213)(0.5067,0.146)(0.5089,0.084)(0.5118,0.047)(0.5147,0.027)(0.519,0.022)(0.525,0.010)(0.5336,0.005)(0.55,0.002)(0.57,0.003)(0.58,0.0)(0.59,0.003)(0.600,0.002)};
\addplot[blue] coordinates {(0.400,-0.002)(0.42,0.0)(0.44,-0.002)(0.46,0.0)(0.4812,0.0)(0.4870,0.005)(0.490,0.017)(0.4929,0.022)(0.4951,0.015)(0.4972,-0.010)(0.5001,-0.052)(0.5023,-0.089)(0.5038,-0.119)(0.505,-0.134)(0.5067,-0.119)(0.5089,-0.064)(0.5111,-0.035)(0.5133,-0.020)(0.5162,-0.015)(0.5205,-0.005)(0.5263,0.0)(0.5336,0.005)(0.55,0.002)(0.57,0.0)(0.600,0.0)};
\node[lab] at (rel axis cs:0.086,0.66) {MWA};
\node[lab] at (rel axis cs:0.707,0.66) {180 MHz};
\end{axis}

\begin{axis}[rcol, at={(348.13pt,-105.83pt)}, ymin=-0.084, ymax=1.054, xticklabels={}]
\addplot[black] coordinates {(0.400,0.0)(0.46,0.001)(0.4754,0.0)(0.4812,0.005)(0.4841,0.011)(0.4863,0.023)(0.4885,0.041)(0.4917,0.131)(0.4936,0.289)(0.4953,0.515)(0.4969,0.718)(0.4984,0.876)(0.4999,1.0)(0.5013,0.977)(0.5028,0.948)(0.5045,0.853)(0.5057,0.786)(0.5071,0.605)(0.5089,0.424)(0.5111,0.233)(0.514,0.086)(0.5162,0.041)(0.5191,0.018)(0.5234,0.007)(0.5336,0.002)(0.600,0.0)};
\addplot[red] coordinates {(0.400,0.001)(0.45,0.002)(0.4929,0.002)(0.4951,0.029)(0.4972,0.086)(0.4999,0.142)(0.5031,0.149)(0.5054,0.153)(0.5067,0.120)(0.5083,0.086)(0.5111,0.041)(0.514,0.018)(0.5169,0.007)(0.522,0.0)(0.56,0.002)(0.600,0.001)};
\addplot[blue] coordinates {(0.400,0.0)(0.4885,0.0)(0.4921,0.007)(0.4951,-0.005)(0.4972,-0.011)(0.4999,-0.020)(0.5031,-0.009)(0.5052,-0.016)(0.5082,-0.032)(0.5111,-0.016)(0.5135,0.0)(0.519,0.002)(0.600,0.0)};
\node[lab] at (rel axis cs:0.090,0.66) {Lovell};
\node[lab] at (rel axis cs:0.704,0.66) {408 MHz};
\end{axis}

\begin{axis}[rcol, at={(348.13pt,-175.12pt)}, ymin=-0.104, ymax=1.053, xticklabels={}]
\addplot[black] coordinates {(0.400,0.0)(0.47,0.001)(0.4827,0.005)(0.4856,0.016)(0.4878,0.039)(0.490,0.097)(0.4921,0.212)(0.4936,0.396)(0.4951,0.604)(0.4962,0.765)(0.4972,0.926)(0.4983,0.984)(0.4991,1.0)(0.4999,0.995)(0.5004,0.903)(0.5013,0.823)(0.5022,0.811)(0.5031,0.818)(0.5039,0.742)(0.5049,0.661)(0.5063,0.512)(0.5074,0.373)(0.5089,0.235)(0.5106,0.120)(0.5125,0.055)(0.5147,0.028)(0.5176,0.012)(0.522,0.005)(0.5336,0.0)(0.600,0.0)};
\addplot[red] coordinates {(0.400,0.0)(0.48,0.001)(0.4885,0.005)(0.4914,0.009)(0.4951,0.016)(0.4972,0.074)(0.499,0.115)(0.5001,0.101)(0.5016,0.083)(0.5023,0.120)(0.5031,0.131)(0.5039,0.097)(0.5049,0.074)(0.5063,0.055)(0.5082,0.051)(0.5096,0.028)(0.5111,0.023)(0.514,0.012)(0.519,0.005)(0.53,0.0)(0.600,0.0)};
\addplot[blue] coordinates {(0.400,0.0)(0.4871,0.0)(0.49,0.005)(0.4921,0.009)(0.494,-0.007)(0.4955,-0.030)(0.4969,-0.051)(0.4984,-0.030)(0.4999,0.005)(0.5013,0.028)(0.5031,0.051)(0.5045,0.044)(0.506,0.016)(0.5077,-0.007)(0.5092,0.0)(0.5106,0.016)(0.5125,0.009)(0.5147,0.002)(0.519,0.0)(0.600,0.0)};
\node[lab] at (rel axis cs:0.090,0.66) {Parkes};
\node[lab] at (rel axis cs:0.704,0.66) {691 MHz};
\end{axis}

\begin{axis}[rcol, at={(348.13pt,-244.41pt)}, ymin=-0.057, ymax=1.048, xticklabels={}]
\addplot[black] coordinates {(0.400,0.0)(0.417,0.004)(0.432,0.0)(0.4463,0.002)(0.4609,0.004)(0.4754,0.004)(0.4827,0.011)(0.487,0.033)(0.490,0.066)(0.4921,0.110)(0.494,0.242)(0.4955,0.418)(0.4969,0.615)(0.4983,0.791)(0.4994,0.879)(0.501,1.0)(0.5031,0.879)(0.5051,0.780)(0.5068,0.604)(0.5086,0.418)(0.5103,0.242)(0.5121,0.154)(0.5141,0.077)(0.5162,0.044)(0.5191,0.022)(0.5234,0.011)(0.5278,0.0)(0.55,0.002)(0.57,0.0)(0.59,0.003)(0.600,0.004)};
\addplot[red] coordinates {(0.400,0.004)(0.4055,0.009)(0.4099,0.015)(0.4143,0.013)(0.4194,0.007)(0.4245,0.009)(0.4288,0.013)(0.4346,0.013)(0.439,0.007)(0.4434,0.009)(0.4477,0.018)(0.4521,0.011)(0.4579,0.018)(0.4638,0.007)(0.4681,0.015)(0.4725,0.009)(0.4783,0.009)(0.4841,0.013)(0.4885,0.018)(0.4914,0.035)(0.4936,0.037)(0.4969,0.033)(0.5001,0.055)(0.5031,0.040)(0.5054,0.088)(0.5074,0.055)(0.5096,0.044)(0.5118,0.026)(0.5147,0.022)(0.5191,0.022)(0.522,0.009)(0.5242,0.022)(0.5263,0.004)(0.5307,0.011)(0.5351,0.007)(0.5394,0.011)(0.5453,0.011)(0.5482,0.015)(0.5504,0.011)(0.5525,0.022)(0.5555,0.009)(0.5627,0.004)(0.57,0.011)(0.5773,0.009)(0.5846,0.004)(0.5918,0.007)(0.600,0.009)};
\addplot[blue] coordinates {(0.400,0.0)(0.42,0.002)(0.44,0.0)(0.46,0.003)(0.4754,0.004)(0.4827,0.004)(0.490,0.011)(0.4943,0.015)(0.4965,0.0)(0.4987,0.022)(0.5009,0.066)(0.5031,0.105)(0.5052,0.110)(0.5074,0.088)(0.5103,0.044)(0.5132,0.022)(0.5162,0.009)(0.522,0.004)(0.5336,0.0)(0.55,0.003)(0.57,-0.002)(0.58,0.002)(0.600,0.0)};
\node[lab] at (rel axis cs:0.090,0.66) {Lovell};
\node[lab] at (rel axis cs:0.704,0.66) {925 MHz};
\end{axis}

\begin{axis}[rcol, at={(348.13pt,-313.70pt)}, ymin=-0.098, ymax=1.050, xticklabels={}]
\addplot[black] coordinates {(0.400,0.0)(0.4609,0.002)(0.4696,0.009)(0.4754,0.014)(0.4798,0.014)(0.4841,0.018)(0.487,0.037)(0.490,0.082)(0.4921,0.174)(0.494,0.333)(0.4955,0.539)(0.4969,0.767)(0.4983,0.927)(0.4994,1.0)(0.5001,0.995)(0.5012,0.927)(0.5023,0.854)(0.5038,0.801)(0.5052,0.699)(0.5067,0.562)(0.5082,0.425)(0.5096,0.265)(0.5115,0.128)(0.5135,0.059)(0.5162,0.025)(0.5205,0.007)(0.5336,0.0)(0.600,0.0)};
\addplot[red] coordinates {(0.400,0.0)(0.4754,0.002)(0.487,0.007)(0.4929,0.025)(0.4958,0.009)(0.498,0.048)(0.4994,0.059)(0.5009,0.037)(0.502,0.064)(0.5038,0.048)(0.5052,0.075)(0.5067,0.070)(0.5082,0.048)(0.5103,0.032)(0.5147,0.018)(0.5191,0.007)(0.53,0.0)(0.600,0.0)};
\addplot[blue] coordinates {(0.400,0.0)(0.4754,0.0)(0.49,0.007)(0.4929,-0.002)(0.495,-0.032)(0.4965,-0.043)(0.4984,-0.009)(0.5009,0.048)(0.5031,0.094)(0.5041,0.116)(0.5052,0.100)(0.5067,0.059)(0.5089,0.037)(0.5118,0.025)(0.5147,0.014)(0.5191,0.002)(0.53,0.0)(0.600,0.0)};
\node[lab] at (rel axis cs:0.090,0.66) {Parkes};
\node[lab] at (rel axis cs:0.704,0.66) {1369 MHz};
\end{axis}

\begin{axis}[rcol, at={(348.13pt,-382.99pt)}, ymin=-0.132, ymax=1.052, xlabel={pulse phase}]
\addplot[black] coordinates {(0.400,0.002)(0.41,-0.002)(0.42,0.003)(0.43,0.0)(0.44,0.004)(0.45,0.002)(0.4609,0.005)(0.4696,0.009)(0.4754,0.014)(0.4798,0.019)(0.4841,0.028)(0.487,0.038)(0.490,0.061)(0.4921,0.128)(0.494,0.270)(0.4955,0.459)(0.4969,0.742)(0.4981,0.931)(0.499,0.991)(0.4999,1.0)(0.5006,0.908)(0.5016,0.742)(0.5031,0.553)(0.5045,0.411)(0.506,0.317)(0.5074,0.246)(0.5089,0.175)(0.5103,0.116)(0.5118,0.090)(0.5132,0.092)(0.5147,0.076)(0.5169,0.045)(0.5191,0.026)(0.5234,0.009)(0.53,0.003)(0.54,-0.002)(0.55,0.002)(0.56,-0.003)(0.57,0.001)(0.58,-0.002)(0.59,0.003)(0.600,-0.001)};
\addplot[red] coordinates {(0.400,0.005)(0.41,0.007)(0.42,0.003)(0.43,0.006)(0.44,0.002)(0.45,0.007)(0.46,0.004)(0.4696,0.008)(0.4783,0.009)(0.4856,0.014)(0.4885,0.021)(0.4914,0.033)(0.4943,0.045)(0.4965,0.033)(0.499,0.057)(0.5001,0.033)(0.5016,0.014)(0.5038,0.043)(0.5052,0.033)(0.5074,0.014)(0.5103,0.019)(0.5132,0.021)(0.5162,0.014)(0.5191,0.005)(0.525,0.007)(0.5307,0.014)(0.54,0.009)(0.55,0.005)(0.5627,0.005)(0.58,0.008)(0.5918,0.009)(0.600,0.012)};
\addplot[blue] coordinates {(0.400,-0.002)(0.41,-0.005)(0.42,-0.002)(0.43,-0.004)(0.44,-0.003)(0.45,-0.002)(0.46,-0.001)(0.4754,0.0)(0.4841,-0.009)(0.490,-0.026)(0.4936,-0.050)(0.4958,-0.073)(0.4972,-0.080)(0.4987,-0.050)(0.4999,0.009)(0.5009,0.104)(0.5019,0.147)(0.5031,0.151)(0.5042,0.116)(0.5057,0.057)(0.5071,0.021)(0.5096,0.014)(0.5132,0.009)(0.519,0.002)(0.53,-0.003)(0.54,-0.001)(0.55,-0.004)(0.56,-0.002)(0.57,0.0)(0.58,-0.003)(0.59,-0.001)(0.600,-0.002)};
\node[lab] at (rel axis cs:0.090,0.66) {Parkes};
\node[lab] at (rel axis cs:0.704,0.66) {3094 MHz};
\end{axis}

\end{tikzpicture}
\end{document}
